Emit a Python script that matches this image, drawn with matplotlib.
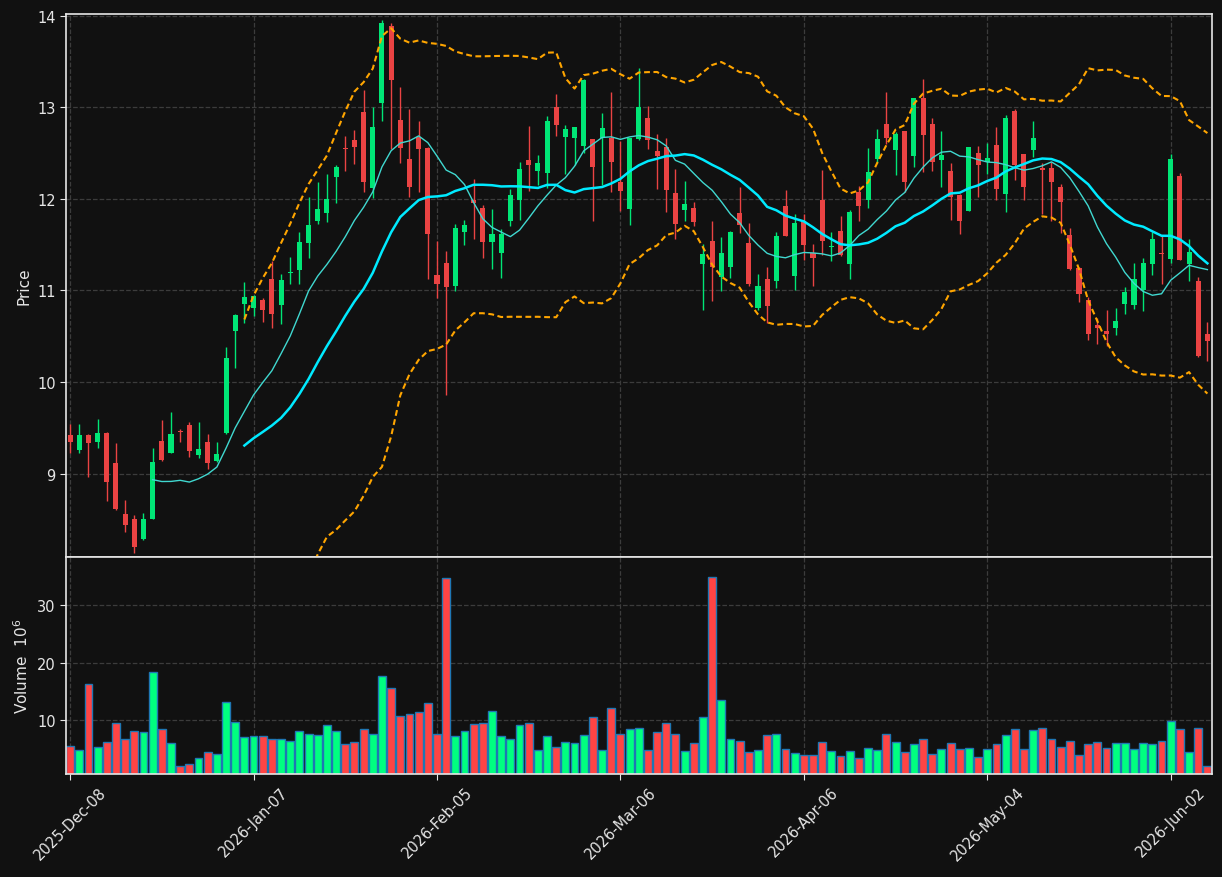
import matplotlib
matplotlib.use("Agg")
import matplotlib.pyplot as plt
import numpy as np
import pandas as pd

# OHLC, one trading day per entry (125 sessions)
opens = [9.42, 9.26, 9.42, 9.34, 9.44, 9.12, 8.56, 8.51, 8.29, 8.51,
         9.36, 9.23, 9.46, 9.53, 9.20, 9.35, 9.14, 9.44, 10.56, 10.85,
         10.81, 10.90, 11.13, 10.84, 11.19, 11.22, 11.52, 11.76, 11.85, 12.24,
         12.56, 12.64, 12.95, 12.12, 13.05, 13.89, 12.86, 12.44, 12.68, 12.56,
         11.17, 11.30, 11.05, 11.64, 11.99, 11.90, 11.53, 11.41, 11.76, 11.99,
         12.42, 12.30, 12.28, 13.00, 12.68, 12.66, 12.58, 12.65, 12.66, 12.67,
         12.18, 11.89, 12.65, 12.88, 12.52, 12.57, 12.06, 11.88, 11.90, 11.29,
         11.54, 11.15, 11.26, 11.85, 11.52, 10.81, 11.12, 11.10, 11.92, 11.16,
         11.76, 11.41, 11.99, 11.47, 11.65, 11.29, 12.08, 11.99, 12.44, 12.82,
         12.53, 12.74, 12.47, 13.10, 12.82, 12.42, 12.30, 12.04, 11.87, 12.50,
         12.40, 12.59, 12.05, 12.96, 12.49, 12.53, 12.34, 12.34, 12.13, 11.61,
         11.25, 10.90, 10.62, 10.56, 10.59, 10.85, 10.84, 11.00, 11.29, 11.41,
         11.34, 12.25, 11.29, 11.10, 10.53]
highs = [9.54, 9.54, 9.43, 9.60, 9.45, 9.33, 8.71, 8.55, 8.57, 9.28,
         9.59, 9.67, 9.49, 9.56, 9.56, 9.43, 9.35, 10.38, 10.74, 11.09,
         10.95, 10.92, 11.32, 11.18, 11.37, 11.64, 12.02, 12.18, 12.27, 12.37,
         12.69, 12.75, 13.19, 13.00, 13.95, 13.92, 13.22, 12.98, 12.85, 12.57,
         11.54, 11.43, 11.73, 11.77, 12.22, 11.93, 11.89, 11.67, 12.11, 12.40,
         12.80, 12.48, 12.91, 13.15, 12.81, 12.79, 13.31, 12.65, 12.94, 13.17,
         12.63, 12.67, 13.43, 13.01, 12.71, 12.66, 12.33, 12.20, 11.97, 11.51,
         11.76, 11.58, 11.65, 12.13, 11.74, 11.18, 11.26, 11.64, 12.10, 11.83,
         11.84, 11.51, 12.32, 11.64, 11.81, 11.88, 12.14, 12.56, 12.76, 13.17,
         12.73, 12.74, 13.10, 13.31, 12.88, 12.74, 12.39, 12.05, 12.57, 12.58,
         12.61, 12.79, 12.92, 12.98, 12.49, 12.85, 12.39, 12.40, 12.16, 11.68,
         11.26, 10.93, 10.70, 10.79, 10.81, 11.04, 11.30, 11.36, 11.64, 11.59,
         12.49, 12.28, 11.56, 11.15, 10.66]
lows = [9.23, 9.23, 8.96, 9.28, 8.70, 8.60, 8.36, 8.13, 8.28, 8.50,
        9.14, 9.22, 9.34, 9.18, 9.17, 9.05, 9.13, 9.43, 10.15, 10.65,
        10.72, 10.66, 10.59, 10.63, 11.07, 11.07, 11.35, 11.73, 11.75, 11.96,
        12.30, 12.38, 12.08, 12.01, 12.85, 12.55, 12.39, 12.02, 12.07, 11.13,
        10.92, 9.86, 10.99, 11.50, 11.56, 11.36, 11.23, 11.14, 11.70, 11.77,
        12.09, 12.15, 12.12, 12.69, 12.27, 12.37, 12.50, 11.76, 12.15, 12.07,
        11.87, 11.72, 12.64, 12.54, 12.11, 11.86, 11.56, 11.76, 11.70, 10.79,
        10.88, 10.99, 11.14, 11.63, 11.05, 10.79, 10.65, 11.03, 11.59, 11.01,
        11.33, 11.05, 11.39, 11.32, 11.38, 11.13, 11.76, 11.90, 12.39, 12.60,
        12.26, 12.08, 12.35, 12.29, 12.31, 12.13, 11.77, 11.62, 11.87, 12.02,
        12.27, 11.99, 11.86, 12.21, 11.99, 12.46, 11.84, 11.76, 11.63, 11.22,
        10.87, 10.46, 10.42, 10.39, 10.51, 10.74, 10.80, 10.78, 11.17, 11.07,
        11.30, 11.33, 11.10, 10.27, 10.23]
closes = [9.35, 9.42, 9.33, 9.44, 8.91, 8.61, 8.44, 8.20, 8.51, 9.13,
          9.15, 9.43, 9.45, 9.25, 9.27, 9.12, 9.21, 10.26, 10.73, 10.93,
          10.94, 10.79, 10.74, 11.11, 11.20, 11.53, 11.72, 11.89, 12.00, 12.35,
          12.54, 12.57, 12.18, 12.79, 13.92, 13.30, 12.56, 12.13, 12.54, 11.62,
          11.07, 11.04, 11.68, 11.71, 11.95, 11.53, 11.62, 11.62, 12.04, 12.33,
          12.37, 12.39, 12.85, 12.81, 12.76, 12.78, 13.30, 12.35, 12.77, 12.40,
          12.09, 12.66, 13.00, 12.64, 12.47, 12.10, 11.73, 11.94, 11.75, 11.40,
          11.26, 11.41, 11.64, 11.71, 11.07, 11.05, 10.83, 11.60, 11.60, 11.74,
          11.50, 11.36, 11.54, 11.49, 11.39, 11.86, 11.92, 12.29, 12.65, 12.67,
          12.71, 12.18, 13.10, 12.70, 12.40, 12.48, 12.02, 11.76, 12.57, 12.37,
          12.45, 12.11, 12.88, 12.37, 12.13, 12.66, 12.32, 12.18, 11.97, 11.24,
          10.96, 10.53, 10.59, 10.53, 10.67, 10.98, 11.12, 11.30, 11.56, 11.40,
          12.44, 11.33, 11.42, 10.28, 10.45]
# volume in millions
volumes = [5.58, 4.88, 16.22, 5.41, 6.28, 9.42, 6.80, 8.02, 7.85, 18.31,
           8.37, 6.05, 2.09, 2.44, 3.49, 4.53, 4.19, 13.08, 9.59, 6.98,
           7.15, 7.15, 6.80, 6.63, 6.45, 8.02, 7.50, 7.33, 9.07, 8.02,
           5.76, 6.28, 8.37, 7.50, 17.62, 15.52, 10.64, 10.99, 11.34, 12.91,
           7.67, 34.71, 7.15, 8.02, 9.24, 9.42, 11.51, 7.15, 6.80, 9.07,
           9.42, 4.88, 7.15, 5.41, 6.28, 6.10, 7.33, 10.47, 4.88, 12.03,
           7.50, 8.37, 8.55, 4.88, 7.85, 9.42, 7.67, 4.71, 6.10, 10.47,
           34.88, 13.43, 6.63, 6.45, 4.53, 4.88, 7.33, 7.67, 5.06, 4.36,
           4.01, 4.01, 6.28, 4.71, 3.84, 4.71, 3.49, 5.23, 4.88, 7.50,
           6.28, 4.53, 5.93, 6.80, 4.19, 5.06, 6.10, 5.06, 5.23, 3.66,
           5.06, 5.93, 7.33, 8.37, 5.06, 8.20, 8.55, 6.63, 5.41, 6.45,
           4.01, 5.76, 6.28, 5.23, 6.10, 6.10, 5.06, 6.10, 5.76, 6.45,
           9.77, 8.37, 4.53, 8.55, 2.09]
tick_labels = ['2025-Dec-08', '2026-Jan-07', '2026-Feb-05', '2026-Mar-06',
               '2026-Apr-06', '2026-May-04', '2026-Jun-02']

BG = '#111111'
TXT = '#e6e6e6'
UP, DOWN = '#00e676', '#ea4343'
VUP, VDOWN = '#00ff80', '#ff4444'

df = pd.DataFrame({'Open': opens, 'High': highs, 'Low': lows,
                   'Close': closes, 'Volume': volumes})
x = np.arange(len(df))
up = df['Close'] >= df['Open']

# indicators
ma10 = df['Close'].rolling(10).mean()
ma20 = df['Close'].rolling(20).mean()
sd20 = df['Close'].rolling(20).std()
bb_up = ma20 + 2 * sd20
bb_lo = ma20 - 2 * sd20

fig = plt.figure(figsize=(12.22, 8.78), dpi=100, facecolor=BG)
ax = fig.add_axes([0.054, 0.3645, 0.9378, 0.6185], facecolor=BG)
axv = fig.add_axes([0.054, 0.1173, 0.9378, 0.2472], facecolor=BG, sharex=ax)

# candles
ccol = np.where(up, UP, DOWN)
ax.vlines(x, df['Low'], df['High'], colors=ccol, linewidth=1, zorder=2)
body_lo = np.minimum(df['Open'], df['Close'])
body_h = np.maximum(np.abs(df['Close'] - df['Open']), 0.012)
ax.bar(x, body_h, bottom=body_lo, width=0.55, color=ccol, linewidth=0, zorder=3)

# overlays
dash = (0, (2.8, 1.7))
ax.plot(x, bb_up, color='#ffa500', linewidth=1.5, linestyle=dash, zorder=4)
ax.plot(x, bb_lo, color='#ffa500', linewidth=1.5, linestyle=dash, zorder=4)
ax.plot(x, ma10, color='#40d8d0', linewidth=1.0, zorder=4)
ax.plot(x, ma20, color='#00eaff', linewidth=1.8, zorder=4)

# volume
vcol = np.where(up, VUP, VDOWN)
axv.bar(x, df['Volume'], width=0.86, color=vcol, edgecolor='#1f77b4',
        linewidth=1, zorder=2)

ax.set_xlim(-0.45, len(df) - 0.5)
ax.set_ylim(8.09, 14.02)
ax.set_yticks([9, 10, 11, 12, 13, 14])
axv.set_ylim(0.3 * min(volumes), 1.1 * max(volumes))
axv.set_yticks([10, 20, 30])

ticks = np.arange(0, len(df), 20)
axv.set_xticks(ticks)
axv.set_xticklabels(tick_labels, rotation=45, ha='center', fontsize=11)
plt.setp(ax.get_xticklabels(), visible=False)

ax.set_ylabel('Price', color=TXT, fontsize=11)
axv.set_ylabel('Volume  $10^{6}$', color=TXT, fontsize=11)

for a in (ax, axv):
    a.grid(True, color='#3c3c3c', linestyle='--', linewidth=0.9)
    a.set_axisbelow(True)
    a.tick_params(colors=TXT, labelsize=10.5, length=4)
    for s in a.spines.values():
        s.set_color('#e6e6e6')
        s.set_linewidth(1.2)

fig.savefig('out.png', dpi=100, facecolor=BG)
